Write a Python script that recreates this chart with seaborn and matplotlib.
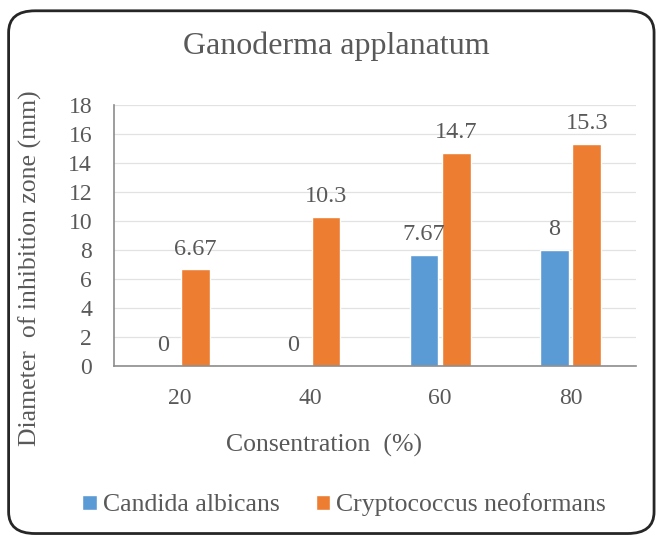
import matplotlib
matplotlib.use("Agg")
import matplotlib.pyplot as plt
import seaborn as sns
import pandas as pd
from matplotlib.patches import FancyBboxPatch

concentrations = ["20", "40", "60", "80"]
candida = [0, 0, 7.67, 8]
crypto = [6.67, 10.3, 14.7, 15.3]
series_names = ["Candida albicans", "Cryptococcus neoformans"]
labels_candida = ["0", "0", "7.67", "8"]
labels_crypto = ["6.67", "10.3", "14.7", "15.3"]
yticks = [0, 2, 4, 6, 8, 10, 12, 14, 16, 18]

df = pd.DataFrame({
    "conc": concentrations * 2,
    "value": candida + crypto,
    "series": [series_names[0]] * 4 + [series_names[1]] * 4,
})

sns.set_theme(style="white")
plt.rcParams["font.family"] = ["Liberation Serif", "DejaVu Serif"]

fig = plt.figure(figsize=(6.62, 5.4), dpi=100)
ax = fig.add_axes([0.1727, 0.3222, 0.7876, 0.4833])

palette = {series_names[0]: "#5B9BD5", series_names[1]: "#ED7D31"}
sns.barplot(data=df, x="conc", y="value", hue="series", order=concentrations,
            hue_order=series_names, palette=palette, width=0.5, gap=0.12,
            saturation=1, ax=ax, legend=True)

txt = "#595959"
for cont, labs in zip(ax.containers, [labels_candida, labels_crypto]):
    ax.bar_label(cont, labels=labs, padding=7, fontsize=17.5, color=txt)

ax.set_ylim(0, 18)
ax.set_yticks(yticks)
ax.yaxis.grid(True, color="#e2e2e2", linewidth=0.9)
ax.set_axisbelow(True)
for s in ["top", "right"]:
    ax.spines[s].set_visible(False)
for s in ["left", "bottom"]:
    ax.spines[s].set_color("#8c8c8c")
    ax.spines[s].set_linewidth(1.2)
ax.tick_params(axis="both", labelsize=17, colors="#595959", length=0)
ax.tick_params(axis="y", pad=16)
ax.tick_params(axis="x", pad=16)

ax.set_xlabel("Consentration  (%)", fontsize=18.5, color=txt)
ax.xaxis.set_label_coords(0.402, -0.303)
ax.xaxis.label.set_va("center")
ax.set_ylabel("Diameter  of inhibition zone (mm)", fontsize=18.5, color=txt)
ax.yaxis.set_label_coords(-0.162, 0.375)
ax.yaxis.label.set_va("center")

fig.text(0.508, 0.915, "Ganoderma applanatum", fontsize=23, color=txt,
         ha="center", va="center")

handles, lbls = ax.get_legend_handles_labels()
ax.legend(handles, lbls, loc="center", bbox_to_anchor=(0.52, 0.065),
          bbox_transform=fig.transFigure, ncol=2, frameon=False,
          fontsize=18.5, labelcolor=txt, handlelength=0.55, handleheight=0.55,
          handletextpad=0.25, columnspacing=1.4)

border = FancyBboxPatch((0.013, 0.012), 0.975, 0.968,
                        boxstyle="round,pad=0,rounding_size=0.04",
                        transform=fig.transFigure, facecolor="none",
                        edgecolor="#262626", linewidth=2, clip_on=False)
fig.patches.append(border)

fig.savefig("out.png", dpi=100)
